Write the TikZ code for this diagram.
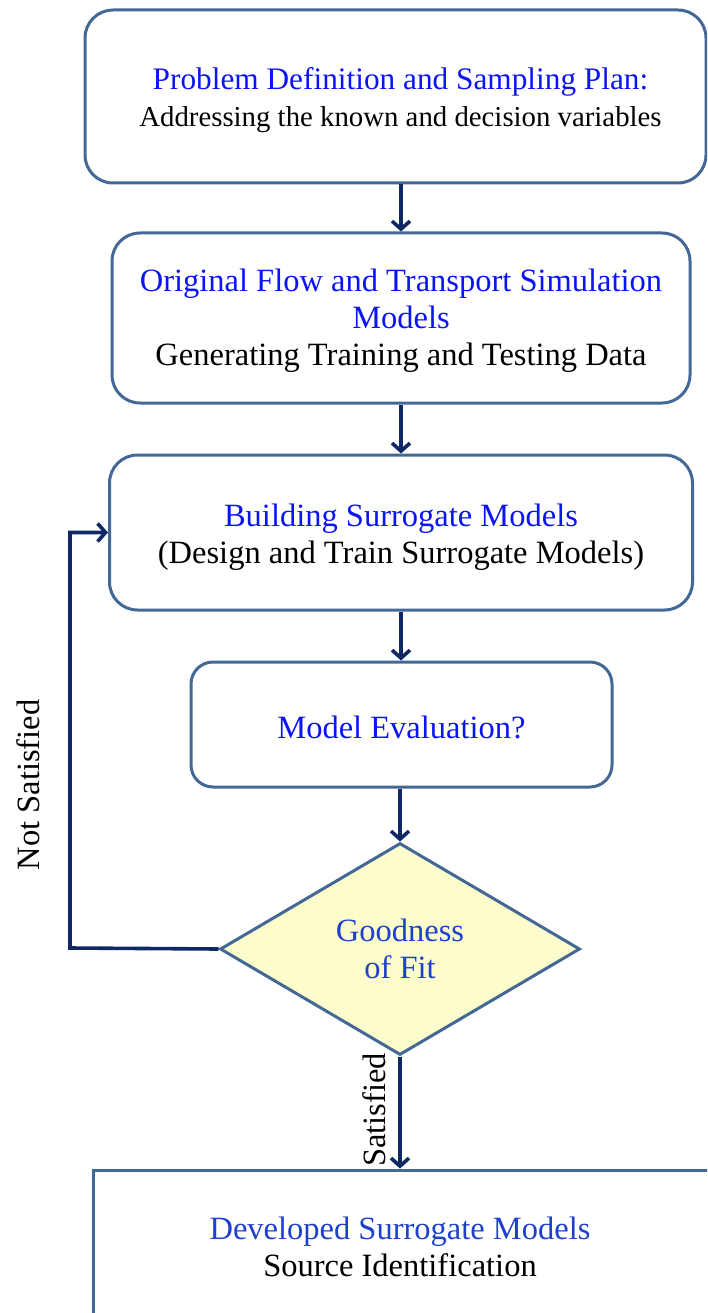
\documentclass[tikz,border=0pt]{standalone}
\usepackage{fontspec}
\setmainfont{Liberation Serif}
\usetikzlibrary{arrows.meta,shapes.geometric,calc}
\definecolor{boxline}{RGB}{68,104,150}
\definecolor{arrline}{RGB}{15,40,100}
\definecolor{tblue}{RGB}{10,20,245}
\definecolor{tblueb}{RGB}{30,65,205}
\definecolor{dfill}{RGB}{252,252,204}
\tikzset{
  x=1pt,y=-1pt,
  procbox/.style={draw=boxline,line width=3pt,rounded corners=28pt,inner sep=0pt},
  plainbox/.style={draw=boxline,line width=3pt,inner sep=0pt},
  txt/.style={align=center,inner sep=0pt,font=\fontsize{32.5}{37}\selectfont},
  decision/.style={draw=boxline,line width=3pt,diamond,fill=dfill,inner sep=0pt,align=center,font=\fontsize{32.5}{37}\selectfont},
  arr/.style={draw=arrline,line width=3.6pt,-{Straight Barb[length=8pt,width=18pt]}},
  lbl/.style={font=\fontsize{32.5}{37}\selectfont,rotate=90,inner sep=0pt}
}
\begin{document}
\begin{tikzpicture}
\useasboundingbox (0,0) rectangle (707,1313);
\clip (0,0) rectangle (707,1313);
\node[procbox,minimum width=621pt,minimum height=173pt] (b1) at (395.5,96.5) {};
\node[txt] (t1) at ($(b1.center)+(5,4)$)
  {\fontsize{31.3}{37}\selectfont\textcolor{tblue}{Problem Definition and Sampling Plan:}\\\fontsize{28.8}{37}\selectfont Addressing the known and decision variables};
\node[procbox,minimum width=578pt,minimum height=170pt] (b2) at (401,318) {};
\node[txt] (t2) at ($(b2.center)+(0,3)$)
  {\textcolor{tblue}{Original Flow and Transport Simulation}\\\textcolor{tblue}{Models}\\Generating Training and Testing Data};
\node[procbox,minimum width=583pt,minimum height=155pt] (b3) at (401,532.5) {};
\node[txt] (t3) at ($(b3.center)+(0,5)$)
  {\textcolor{tblue}{Building Surrogate Models}\\(Design and Train Surrogate Models)};
\node[procbox,minimum width=421pt,minimum height=125pt,rounded corners=22pt] (b4) at (401.5,724.5) {};
\node[txt] (t4) at ($(b4.center)+(0,3)$) {\textcolor{tblue}{Model Evaluation?}};
\node[decision,minimum width=360pt,minimum height=212pt] (d) at (400,949)
  {\textcolor{tblueb}{Goodness}\\\textcolor{tblueb}{of Fit}};
\node[plainbox,minimum width=640pt,minimum height=152pt] (b5) at (413,1246) {};
\node[txt] (t5) at (400,1247)
  {\textcolor{tblueb}{Developed Surrogate Models}\\Source Identification};
\coordinate (c) at (70,948);
\draw[arr] (b2.north |- b1.south) -- (b2.north);
\draw[arr] (b3.north |- b2.south) -- (b3.north);
\draw[arr] (b3.south) -- (b3.south |- b4.north);
\draw[arr] (d.north |- b4.south) -- (d.north);
\draw[arr] (d.west) -- (c) |- (b3.west);
\draw[arr] (d.south) -- (d.south |- b5.north);
\node[lbl] (ns) at (28,785) {Not Satisfied};
\node[lbl] (s) at (374,1110) {Satisfied};
\end{tikzpicture}
\end{document}
